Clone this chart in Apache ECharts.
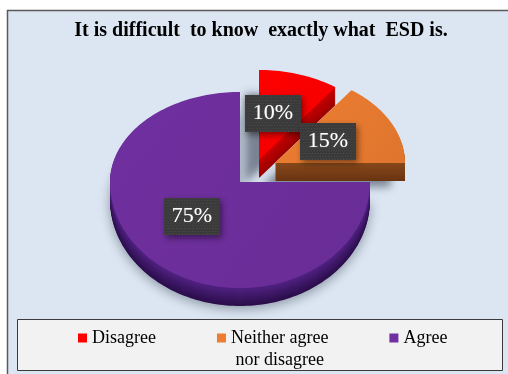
<!DOCTYPE html>
<html>
<head>
<meta charset="utf-8">
<script src="https://cdn.jsdelivr.net/npm/echarts@6/dist/echarts.min.js"></script>
<style>
  html, body { margin: 0; padding: 0; background: #ffffff; }
  #chart { width: 508px; height: 374px; }
</style>
</head>
<body>
<div id="chart"></div>
<script>
// ---- data ----
const chartTitle = 'It is difficult  to know  exactly what  ESD is.';
const categories = ['Disagree', 'Neither agree nor disagree', 'Agree'];
const shares = [10, 15, 75];
const legendLabels = ['Disagree\n ', 'Neither agree\n nor disagree', 'Agree\n '];

// ---- look & layout of the 3D pie ----
const topColors  = ['#ff0000', '#ed7d31', '#7030a0'];
const sideTop    = ['#c40000', '#86471a', '#4f2180'];
const sideBottom = ['#9c0000', '#6a3411', '#2b0e4b'];
const pieCenter = [240, 182];
const radiusX = 130, radiusBack = 90, radiusFront = 106, depth = 18;
const explode = [[19, -22], [35, -19], [0, 0]];
const labelOffset = [[14, -47], [53, -22], [-48, 34]];

const total = shares.reduce((a, b) => a + b, 0);

function sliceAngles(i) {
  let before = 0;
  for (let k = 0; k < i; k++) before += shares[k];
  return [before / total * 2 * Math.PI, (before + shares[i]) / total * 2 * Math.PI];
}

// point on the tilted rim; angle measured clockwise from 12 o'clock
function rim(a, cx, cy) {
  const c = Math.cos(a);
  return [cx + radiusX * Math.sin(a), cy - (c > 0 ? radiusBack : radiusFront) * c];
}

function sliceCenter(i) {
  return [pieCenter[0] + explode[i][0], pieCenter[1] + explode[i][1]];
}

function outline(i, dy) {
  const [a0, a1] = sliceAngles(i);
  const [cx, c0] = sliceCenter(i);
  const cy = c0 + dy;
  const pts = [[cx, cy]];
  const n = Math.max(8, Math.ceil((a1 - a0) / (Math.PI / 120)));
  for (let k = 0; k <= n; k++) pts.push(rim(a0 + (a1 - a0) * k / n, cx, cy));
  return pts;
}

function mix(c1, c2, t) {
  const p = c => [1, 3, 5].map(o => parseInt(c.substr(o, 2), 16));
  const a = p(c1), b = p(c2);
  return 'rgb(' + a.map((v, k) => Math.round(v + (b[k] - v) * t)).join(',') + ')';
}

// dark dotted fill used behind the percentage labels
const labelFill = (function () {
  const cv = document.createElement('canvas');
  cv.width = 60; cv.height = 40;
  const g = cv.getContext('2d');
  g.fillStyle = '#3a3a3a';
  g.fillRect(0, 0, cv.width, cv.height);
  g.fillStyle = '#505050';
  for (let y = 0; y < cv.height; y += 3) {
    for (let x = (y / 3) % 2 ? 1 : 0; x < cv.width; x += 3) g.fillRect(x, y, 1, 1);
  }
  return cv;
})();

function renderSlice(params, api) {
  const i = params.seriesIndex;
  const children = [];
  for (let d = depth; d >= 1; d--) {
    const t = (d - 1) / (depth - 1);
    const style = { fill: mix(sideTop[i], sideBottom[i], t) };
    if (d === depth) {
      if (i < 2) {
        style.shadowBlur = 8;
        style.shadowColor = 'rgba(40,50,70,0.55)';
        style.shadowOffsetX = -14;
        style.shadowOffsetY = 6;
      } else {
        style.shadowBlur = 12;
        style.shadowColor = 'rgba(40,50,70,0.45)';
        style.shadowOffsetY = 3;
      }
    }
    children.push({ type: 'polygon', shape: { points: outline(i, d) }, style });
  }
  children.push({
    type: 'polygon',
    shape: { points: outline(i, 0) },
    style: {
      fill: {
        type: 'linear', x: 0, y: 0, x2: 1, y2: 1, global: false,
        colorStops: [
          { offset: 0, color: topColors[i] },
          { offset: 1, color: mix(topColors[i], '#000000', 0.06) }
        ]
      }
    }
  });
  return { type: 'group', children };
}

function renderLabel(params, api) {
  const i = params.dataIndex;
  const [cx, cy] = sliceCenter(i);
  return {
    type: 'text',
    x: cx + labelOffset[i][0],
    y: cy + labelOffset[i][1],
    style: {
      text: api.value(0) + '%',
      fill: '#ffffff',
      font: '22px "Liberation Serif"',
      align: 'center',
      verticalAlign: 'middle',
      backgroundColor: { image: labelFill },
      padding: [8, 8, 7, 8],
      shadowBlur: 6,
      shadowColor: 'rgba(0,0,0,0.45)',
      shadowOffsetX: 2,
      shadowOffsetY: 3,
      textShadowColor: 'rgba(255,255,255,0.35)',
      textShadowBlur: 1
    }
  };
}

const series = categories.map((name, i) => ({
  type: 'custom',
  name,
  coordinateSystem: 'none',
  silent: true,
  itemStyle: { color: topColors[i] },
  data: [[shares[i]]],
  renderItem: renderSlice
}));
series.push({
  type: 'custom',
  name: 'labels',
  coordinateSystem: 'none',
  silent: true,
  z: 5,
  data: shares.map(v => [v]),
  renderItem: renderLabel
});

const chart = echarts.init(document.getElementById('chart'), null, { renderer: 'canvas' });
chart.setOption({
  animation: false,
  backgroundColor: '#ffffff',
  graphic: [
    {
      type: 'rect', z: 0, silent: true,
      shape: { x: 7.5, y: 10.5, width: 520, height: 380 },
      style: { fill: '#dce6f2', stroke: '#5a5a5a', lineWidth: 1.5 }
    },
    {
      type: 'rect', z: 1, silent: true,
      shape: { x: 17.5, y: 319.5, width: 485, height: 51 },
      style: { fill: '#f2f2f2', stroke: '#3a3a3a', lineWidth: 1 }
    }
  ],
  title: {
    text: chartTitle,
    left: 261,
    top: 21,
    textAlign: 'center',
    padding: 0,
    textStyle: { fontFamily: 'Liberation Serif', fontWeight: 'bold', fontSize: 20, color: '#000000' }
  },
  legend: {
    data: categories,
    left: 78,
    top: 327,
    padding: 0,
    itemGap: 61,
    itemWidth: 9,
    itemHeight: 31,
    icon: 'path://M0,0H9V9H0Z M0,31L0.01,31',
    selectedMode: false,
    formatter: name => legendLabels[categories.indexOf(name)],
    textStyle: { fontFamily: 'Liberation Serif', fontSize: 18, color: '#000000', lineHeight: 22 }
  },
  series
});
</script>
</body>
</html>
